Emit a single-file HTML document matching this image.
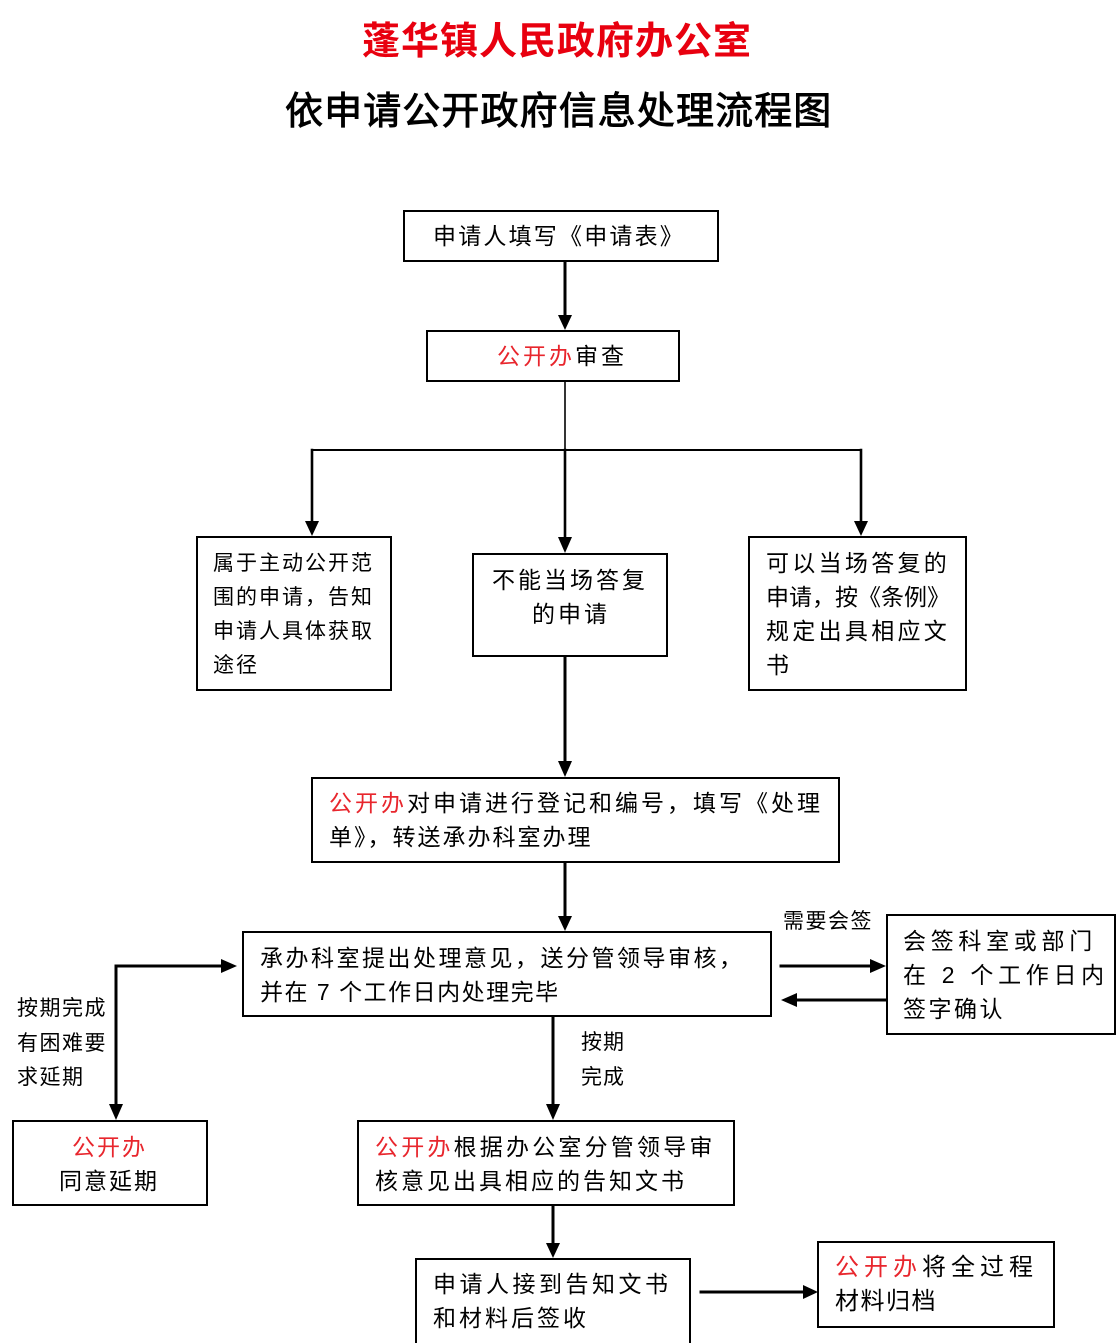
<!DOCTYPE html>
<html>
<head>
<meta charset="utf-8">
<style>
html,body{margin:0;padding:0;background:#fff;overflow:hidden;width:1119px;height:1343px;}
#w{width:1119px;height:1343px;position:relative;overflow:hidden;font-family:"Liberation Sans","Noto Sans CJK SC","WenQuanYi Zen Hei",sans-serif;color:#000;}
.t{position:absolute;white-space:nowrap;line-height:1;}
.box{position:absolute;border:2px solid #000;box-sizing:border-box;background:#fff;}
.r{color:#e8262d;}
svg{position:absolute;left:0;top:0;}
</style>
</head>
<body>
<div id="w">
<svg width="1119" height="1343" viewBox="0 0 1119 1343">
  <g stroke="#000" fill="none" stroke-linecap="square">
    <line x1="565" y1="261" x2="565" y2="318" stroke-width="3"/>
    <line x1="565" y1="381" x2="565" y2="450" stroke-width="1.6"/>
    <line x1="565" y1="450" x2="565" y2="540" stroke-width="2.6"/>
    <line x1="312" y1="450" x2="861" y2="450" stroke-width="2"/>
    <line x1="312" y1="450" x2="312" y2="524" stroke-width="2.6"/>
    <line x1="861" y1="450" x2="861" y2="524" stroke-width="2.6"/>
    <line x1="565" y1="656" x2="565" y2="764" stroke-width="3"/>
    <line x1="565" y1="862" x2="565" y2="918" stroke-width="3"/>
    <line x1="781" y1="966" x2="872" y2="966" stroke-width="3"/>
    <line x1="795" y1="1000" x2="885" y2="1000" stroke-width="3"/>
    <line x1="116" y1="966" x2="222" y2="966" stroke-width="3"/>
    <line x1="116" y1="966" x2="116" y2="1106" stroke-width="3"/>
    <line x1="553" y1="1016" x2="553" y2="1106" stroke-width="3"/>
    <line x1="553" y1="1205" x2="553" y2="1245" stroke-width="3"/>
    <line x1="701" y1="1292" x2="805" y2="1292" stroke-width="3"/>
  </g>
  <g fill="#000">
    <polygon points="558,315 572,315 565,330"/>
    <polygon points="558,537 572,537 565,553"/>
    <polygon points="305,521 319,521 312,536"/>
    <polygon points="854,521 868,521 861,536"/>
    <polygon points="558,761 572,761 565,777"/>
    <polygon points="558,916 572,916 565,931"/>
    <polygon points="870,959 870,973 886,966"/>
    <polygon points="797,993 797,1007 781,1000"/>
    <polygon points="221,959 221,973 237,966"/>
    <polygon points="109,1104 123,1104 116,1120"/>
    <polygon points="546,1104 560,1104 553,1120"/>
    <polygon points="546,1243 560,1243 553,1258"/>
    <polygon points="803,1285 803,1299 818,1292"/>
  </g>
</svg>

<!-- Titles -->
<div class="t" style="left:362px;top:23px;font-size:38px;letter-spacing:1px;font-weight:bold;color:#e8000f;">蓬华镇人民政府办公室</div>
<div class="t" style="left:285px;top:93px;font-size:38px;letter-spacing:1.1px;font-weight:normal;-webkit-text-stroke:0.9px #000;">依申请公开政府信息处理流程图</div>

<!-- Box1 -->
<div class="box" style="left:403px;top:210px;width:316px;height:52px;"></div>
<div class="t" style="left:433px;top:225px;font-size:23px;letter-spacing:2.2px;">申请人填写《申请表》</div>

<!-- Box2 -->
<div class="box" style="left:426px;top:330px;width:254px;height:52px;"></div>
<div class="t" style="left:497px;top:345px;font-size:23px;letter-spacing:3px;"><span class="r">公开办</span>审查</div>

<!-- Box3 -->
<div class="box" style="left:196px;top:536px;width:196px;height:155px;"></div>
<div class="t" style="left:213px;top:553px;font-size:21px;letter-spacing:2px;">属于主动公开范</div>
<div class="t" style="left:213px;top:587px;font-size:21px;letter-spacing:2px;">围的申请，告知</div>
<div class="t" style="left:213px;top:621px;font-size:21px;letter-spacing:2px;">申请人具体获取</div>
<div class="t" style="left:213px;top:655px;font-size:21px;letter-spacing:2px;">途径</div>

<!-- Box4 -->
<div class="box" style="left:472px;top:553px;width:196px;height:104px;"></div>
<div class="t" style="left:492px;top:569px;font-size:23px;letter-spacing:3px;">不能当场答复</div>
<div class="t" style="left:532px;top:603px;font-size:23px;letter-spacing:3px;">的申请</div>

<!-- Box5 -->
<div class="box" style="left:748px;top:536px;width:219px;height:155px;"></div>
<div class="t" style="left:766px;top:552px;font-size:23px;letter-spacing:3.3px;">可以当场答复的</div>
<div class="t" style="left:766px;top:586px;font-size:23px;letter-spacing:0px;">申请，按《条例》</div>
<div class="t" style="left:766px;top:620px;font-size:23px;letter-spacing:3.3px;">规定出具相应文</div>
<div class="t" style="left:766px;top:654px;font-size:23px;letter-spacing:3.3px;">书</div>

<!-- Box6 -->
<div class="box" style="left:311px;top:777px;width:529px;height:86px;"></div>
<div class="t" style="left:329px;top:792px;font-size:23px;letter-spacing:3px;"><span class="r">公开办</span>对申请进行登记和编号，填写《处理</div>
<div class="t" style="left:329px;top:826px;font-size:23px;letter-spacing:2px;">单》，转送承办科室办理</div>

<!-- Box7 -->
<div class="box" style="left:242px;top:931px;width:530px;height:86px;"></div>
<div class="t" style="left:260px;top:947px;font-size:23px;letter-spacing:2.5px;">承办科室提出处理意见，送分管领导审核，</div>
<div class="t" style="left:260px;top:981px;font-size:23px;letter-spacing:1.5px;">并在 7 个工作日内处理完毕</div>

<!-- Label 需要会签 -->
<div class="t" style="left:783px;top:911px;font-size:21px;letter-spacing:1.5px;">需要会签</div>

<!-- Box8 -->
<div class="box" style="left:886px;top:914px;width:230px;height:121px;"></div>
<div class="t" style="left:903px;top:930px;font-size:23px;letter-spacing:4.7px;">会签科室或部门</div>
<div class="t" style="left:903px;top:964px;font-size:23px;letter-spacing:4.7px;">在 2 个工作日内</div>
<div class="t" style="left:903px;top:998px;font-size:23px;letter-spacing:2.5px;">签字确认</div>

<!-- Left labels -->
<div class="t" style="left:17px;top:998px;font-size:21px;letter-spacing:1.5px;">按期完成</div>
<div class="t" style="left:17px;top:1033px;font-size:21px;letter-spacing:1.5px;">有困难要</div>
<div class="t" style="left:17px;top:1067px;font-size:21px;letter-spacing:1.5px;">求延期</div>

<!-- Box9 -->
<div class="box" style="left:12px;top:1120px;width:196px;height:86px;"></div>
<div class="t r" style="left:72px;top:1136px;font-size:23px;letter-spacing:2px;">公开办</div>
<div class="t" style="left:59px;top:1170px;font-size:23px;letter-spacing:2px;">同意延期</div>

<!-- Label 按期完成 middle -->
<div class="t" style="left:581px;top:1032px;font-size:21px;letter-spacing:1px;">按期</div>
<div class="t" style="left:581px;top:1067px;font-size:21px;letter-spacing:1px;">完成</div>

<!-- Box10 -->
<div class="box" style="left:357px;top:1120px;width:378px;height:86px;"></div>
<div class="t" style="left:375px;top:1136px;font-size:23px;letter-spacing:3.2px;"><span class="r">公开办</span>根据办公室分管领导审</div>
<div class="t" style="left:375px;top:1170px;font-size:23px;letter-spacing:3px;">核意见出具相应的告知文书</div>

<!-- Box11 (extends past the bottom edge) -->
<div class="box" style="left:415px;top:1258px;width:276px;height:100px;"></div>
<div class="t" style="left:433px;top:1273px;font-size:23px;letter-spacing:3.5px;">申请人接到告知文书</div>
<div class="t" style="left:433px;top:1307px;font-size:23px;letter-spacing:3px;">和材料后签收</div>

<!-- Box12 -->
<div class="box" style="left:817px;top:1241px;width:238px;height:87px;"></div>
<div class="t" style="left:835px;top:1256px;font-size:24px;letter-spacing:5px;"><span class="r">公开办</span>将全过程</div>
<div class="t" style="left:835px;top:1290px;font-size:24px;letter-spacing:1.5px;">材料归档</div>
</div>
</body>
</html>
